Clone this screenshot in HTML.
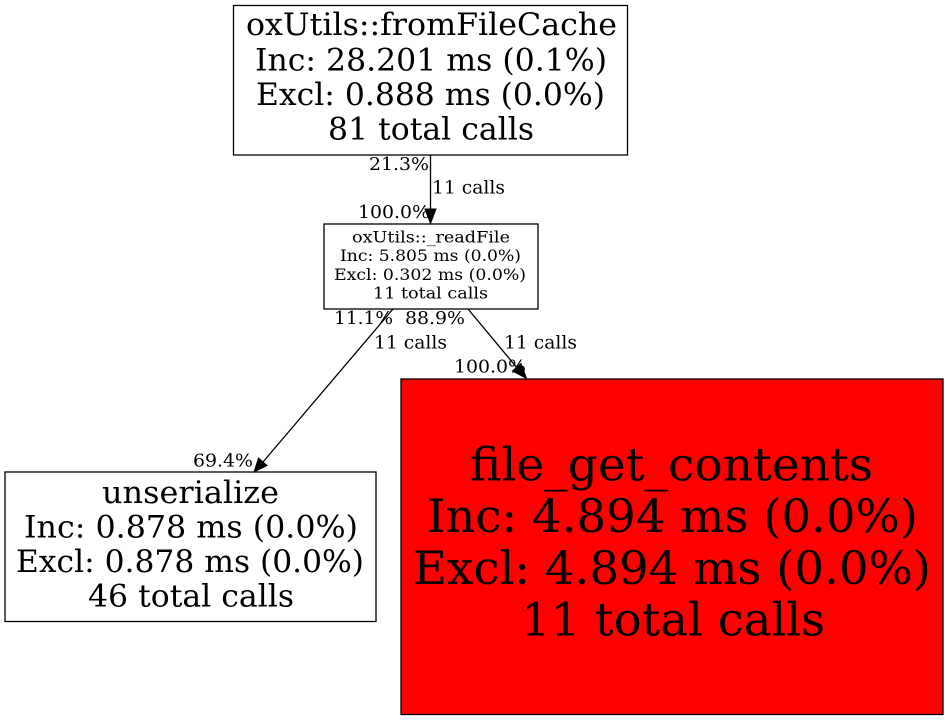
<!DOCTYPE html>
<html><head><meta charset="utf-8"><style>
html,body{margin:0;padding:0;background:#fff;width:948px;height:720px;overflow:hidden}
svg{display:block}
text{font-family:"DejaVu Serif",serif;fill:#000;text-anchor:start}
rect{stroke:#000;stroke-width:1.3}
line{stroke:#000;stroke-width:1.3}
polygon{stroke:#000;stroke-width:1;fill:#000}
</style></head><body>
<svg width="948" height="720" viewBox="0 0 948 720">
<rect x="233.5" y="5.5" width="394" height="149.5" fill="#fff"/>
<rect x="324" y="224" width="214" height="85" fill="#fff"/>
<rect x="5" y="472" width="371" height="149.5" fill="#fff"/>
<rect x="401" y="379" width="542" height="335.5" fill="#f00"/>

<line x1="430.5" y1="155" x2="430.5" y2="211"/>
<polygon points="425,209 436,209 430.5,223.500"/>
<line x1="468" y1="309" x2="518" y2="369"/>
<polygon points="512.500,371 521,363.500 526.500,378.500"/>
<line x1="393" y1="309" x2="263" y2="462"/>
<polygon points="258.500,458 267,465.500 254,472"/>

<g font-size="30.7">
<text x="246" y="35" textLength="371" lengthAdjust="spacingAndGlyphs">oxUtils::fromFileCache</text>
<text x="255" y="70.500" textLength="352" lengthAdjust="spacingAndGlyphs">Inc: 28.201 ms (0.1%)</text>
<text x="256" y="105" textLength="349" lengthAdjust="spacingAndGlyphs">Excl: 0.888 ms (0.0%)</text>
<text x="328" y="139.500" textLength="206" lengthAdjust="spacingAndGlyphs">81 total calls</text>
</g>
<g font-size="15.6">
<text x="352" y="242.500" textLength="158" lengthAdjust="spacingAndGlyphs">oxUtils::_readFile</text>
<text x="340" y="261" textLength="181" lengthAdjust="spacingAndGlyphs">Inc: 5.805 ms (0.0%)</text>
<text x="334" y="280" textLength="192" lengthAdjust="spacingAndGlyphs">Excl: 0.302 ms (0.0%)</text>
<text x="373" y="298.500" textLength="115" lengthAdjust="spacingAndGlyphs">11 total calls</text>
</g>
<g font-size="30.7">
<text x="102" y="503" textLength="177" lengthAdjust="spacingAndGlyphs">unserialize</text>
<text x="24" y="537.500" textLength="334" lengthAdjust="spacingAndGlyphs">Inc: 0.878 ms (0.0%)</text>
<text x="16" y="572" textLength="348" lengthAdjust="spacingAndGlyphs">Excl: 0.878 ms (0.0%)</text>
<text x="88" y="606.500" textLength="206" lengthAdjust="spacingAndGlyphs">46 total calls</text>
</g>
<g font-size="46">
<text x="470" y="480.500" textLength="403" lengthAdjust="spacingAndGlyphs">file_get_contents</text>
<text x="427" y="532" textLength="491" lengthAdjust="spacingAndGlyphs">Inc: 4.894 ms (0.0%)</text>
<text x="413" y="584" textLength="518" lengthAdjust="spacingAndGlyphs">Excl: 4.894 ms (0.0%)</text>
<text x="521" y="635.500" textLength="304" lengthAdjust="spacingAndGlyphs">11 total calls</text>
</g>
<g font-size="17.8">
<text x="369" y="170" textLength="60" lengthAdjust="spacingAndGlyphs">21.3%</text>
<text x="432" y="193.500" textLength="73" lengthAdjust="spacingAndGlyphs">11 calls</text>
<text x="358" y="218" textLength="72" lengthAdjust="spacingAndGlyphs">100.0%</text>
<text x="334" y="324" textLength="59" lengthAdjust="spacingAndGlyphs">11.1%</text>
<text x="405" y="324" textLength="60" lengthAdjust="spacingAndGlyphs">88.9%</text>
<text x="374" y="348.500" textLength="73" lengthAdjust="spacingAndGlyphs">11 calls</text>
<text x="504" y="348.500" textLength="73" lengthAdjust="spacingAndGlyphs">11 calls</text>
<text x="454" y="372.500" textLength="72" lengthAdjust="spacingAndGlyphs">100.0%</text>
<text x="193" y="466.500" textLength="60" lengthAdjust="spacingAndGlyphs">69.4%</text>
</g>
</svg>
</body></html>
